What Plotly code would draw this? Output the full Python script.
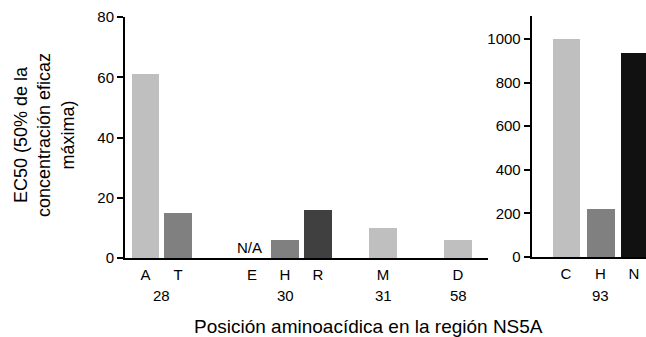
import plotly.graph_objects as go

# ---- data ----
left_letters = ["A", "T", "E", "H", "R", "M", "D"]
left_values = [61, 15, None, 6, 16, 10, 6]
left_groups = ["28", "30", "31", "58"]
right_letters = ["C", "H", "N"]
right_values = [1000, 220, 935]
right_groups = ["93"]
y_title = "EC50 (50% de la<br>concentración eficaz<br>máxima)"
x_title = "Posición aminoacídica en la región NS5A"
na_label = "N/A"

# ---- layout (positions / styles) ----
W, H = 646, 337
left_pos = [20.5, 53, 127, 160, 193, 258, 333]
left_group_pos = [36.75, 160, 258, 333]
right_pos = [34.3, 68.8, 102.3]
right_group_pos = [68.8]
bar_w = 27.5
LG, MG, DG, BK = "#bfbfbf", "#808080", "#404040", "#111111"
left_colors = [LG, MG, LG, MG, DG, LG, LG]
right_colors = [LG, MG, BK]
FONT = "Liberation Sans, Arial, Helvetica, sans-serif"
TICK_SIZE = 15

def px_x(p):
    return p / W

def px_y(p):
    return (H - p) / H

fig = go.Figure()
fig.add_trace(go.Bar(x=left_pos, y=left_values, width=bar_w,
                     marker=dict(color=left_colors, line=dict(width=0)),
                     xaxis="x", yaxis="y", showlegend=False, hoverinfo="skip"))
fig.add_trace(go.Bar(x=right_pos, y=right_values, width=bar_w,
                     marker=dict(color=right_colors, line=dict(width=0)),
                     xaxis="x2", yaxis="y2", showlegend=False, hoverinfo="skip"))

axis_common = dict(showgrid=False, zeroline=False, showline=True,
                   linecolor="black", linewidth=2, automargin=False,
                   tickfont=dict(family=FONT, size=TICK_SIZE, color="black"))

fig.update_layout(
    width=W, height=H,
    margin=dict(l=0, r=0, t=0, b=0, pad=0),
    plot_bgcolor="white", paper_bgcolor="white",
    bargap=0,
    font=dict(family=FONT, color="black"),
    xaxis=dict(domain=[px_x(125), px_x(488)], range=[0, 363],
               tickmode="array", tickvals=left_pos, ticktext=left_letters,
               ticks="", anchor="y", ticklabelstandoff=2, **axis_common),
    yaxis=dict(domain=[px_y(258), px_y(17)], range=[0, 80],
               tickvals=[0, 20, 40, 60, 80], ticks="outside", ticklen=6,
               tickwidth=1.5, tickcolor="black", anchor="x", **axis_common),
    xaxis2=dict(domain=[px_x(531.7), 1], range=[0, 114.3],
                tickmode="array", tickvals=right_pos, ticktext=right_letters,
                ticks="", anchor="y2", ticklabelstandoff=2, **axis_common),
    yaxis2=dict(domain=[px_y(257), px_y(16)], range=[0, 1105],
                tickvals=[0, 200, 400, 600, 800, 1000], ticks="outside",
                ticklen=6, tickwidth=1.5, tickcolor="black", anchor="x2",
                **axis_common),
)

anns = []
for g, p in zip(left_groups, left_group_pos):
    anns.append(dict(x=p, y=px_y(295.5), xref="x", yref="paper", text=g,
                     xanchor="center", yanchor="middle",
                     showarrow=False, font=dict(size=TICK_SIZE)))
for g, p in zip(right_groups, right_group_pos):
    anns.append(dict(x=p, y=px_y(295.5), xref="x2", yref="paper", text=g,
                     xanchor="center", yanchor="middle",
                     showarrow=False, font=dict(size=TICK_SIZE)))
anns.append(dict(x=left_pos[2] - 3, y=0, xref="x", yref="y", text=na_label,
                 showarrow=False, xanchor="center", yanchor="bottom", yshift=0,
                 font=dict(size=TICK_SIZE)))
anns.append(dict(x=px_x(368), y=px_y(338), xref="paper", yref="paper",
                 xanchor="center", yanchor="bottom", borderpad=0,
                 text=x_title, showarrow=False, font=dict(size=19)))
anns.append(dict(x=px_x(45), y=px_y(135), xref="paper", yref="paper",
                 xanchor="center", yanchor="middle",
                 text=y_title, showarrow=False, textangle=-90,
                 font=dict(size=18)))
fig.update_layout(annotations=anns)

fig.write_html("out.html", config={"displayModeBar": False},
               post_script="document.body.style.margin='0';document.body.style.overflow='hidden';")
